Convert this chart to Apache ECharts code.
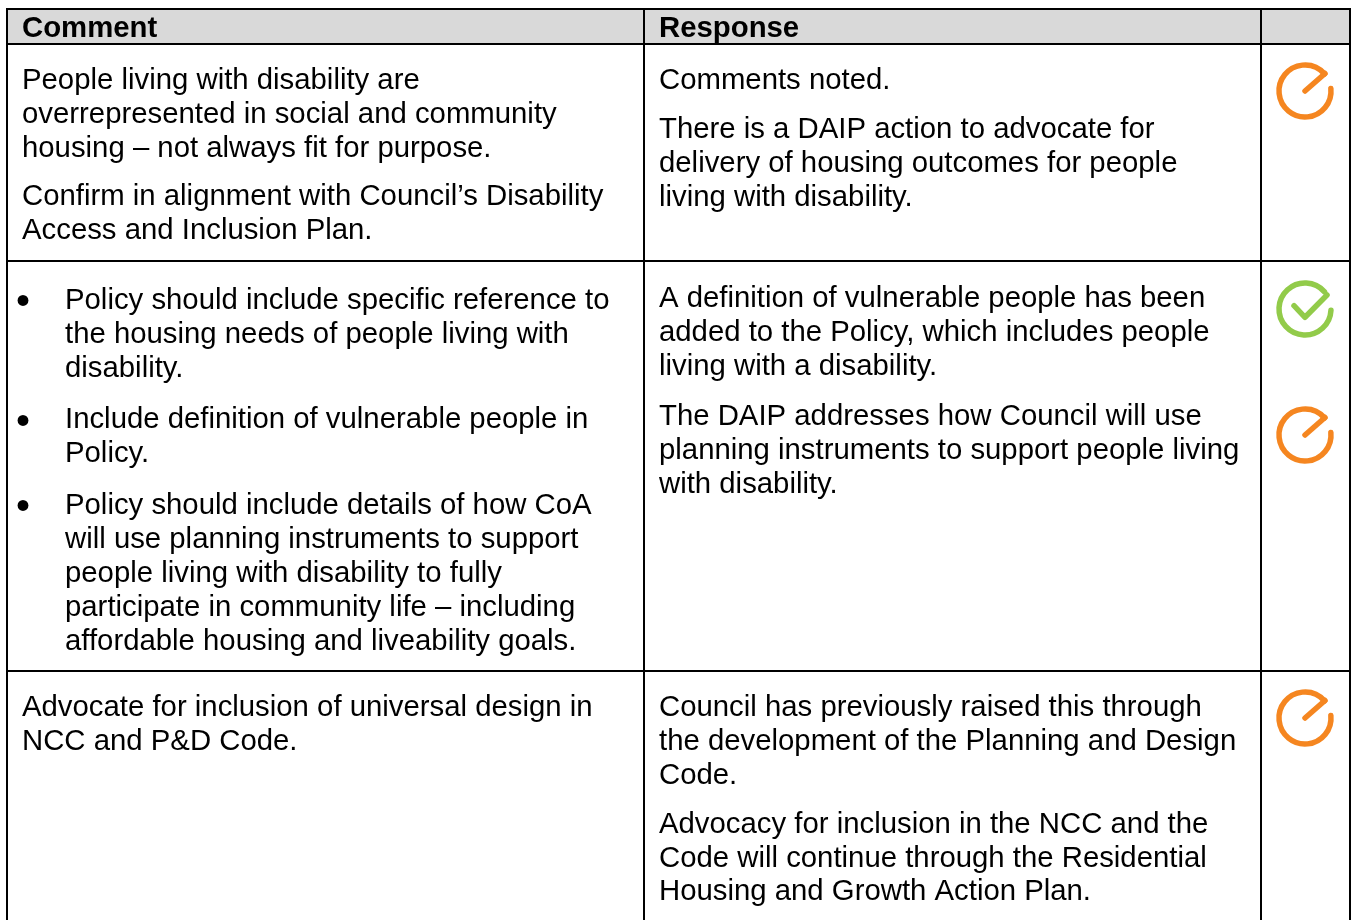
<!DOCTYPE html>
<html><head><meta charset="utf-8">
<style>html,body{margin:0;padding:0;background:#fff}#c{width:1355px;height:920px}</style>
<script src="https://cdn.jsdelivr.net/npm/echarts@6/dist/echarts.min.js"></script>
</head><body><div id="c"></div>
<script>
// ---- content ----
const headers = ['Comment', 'Response', ''];
const row1Comment = [
  ['People living with disability are', 'overrepresented in social and community', 'housing – not always fit for purpose.'],
  ['Confirm in alignment with Council’s Disability', 'Access and Inclusion Plan.']
];
const row1Response = [
  ['Comments noted.'],
  ['There is a DAIP action to advocate for', 'delivery of housing outcomes for people', 'living with disability.']
];
const row2Comment = [
  ['Policy should include specific reference to', 'the housing needs of people living with', 'disability.'],
  ['Include definition of vulnerable people in', 'Policy.'],
  ['Policy should include details of how CoA', 'will use planning instruments to support', 'people living with disability to fully', 'participate in community life – including', 'affordable housing and liveability goals.']
];
const row2Response = [
  ['A definition of vulnerable people has been', 'added to the Policy, which includes people', 'living with a disability.'],
  ['The DAIP addresses how Council will use', 'planning instruments to support people living', 'with disability.']
];
const row3Comment = [
  ['Advocate for inclusion of universal design in', 'NCC and P&D Code.']
];
const row3Response = [
  ['Council has previously raised this through', 'the development of the Planning and Design', 'Code.'],
  ['Advocacy for inclusion in the NCC and the', 'Code will continue through the Residential', 'Housing and Growth Action Plan.']
];
const statusIcons = ['progress', 'done', 'progress', 'progress'];

// ---- layout and style ----
const L = {
  left: 7, col1: 644, col2: 1261, right: 1350,
  top: 9, head: 44, row1: 261, row2: 671, bottom: 920,
  textL: 22, textB: 65, textR: 659, bulletX: 16,
  lh: 33.9, gap: 15, iconX: 1305
};
const FONT = '"Liberation Sans", Arial, sans-serif';
const SIZE = 29.33, BULLET_SIZE = 40;
const ORANGE = '#f58620', GREEN = '#92cb4a', INK = '#000';
const FIRST = { head: 14, row1: 66.3, row2L: 286.4, row2R: 284.4, row3: 693.4 };

function flow(paras, x, y, gap, out) {
  paras.forEach(function (p) {
    p.forEach(function (line) { out.push({ t: line, x: x, y: y }); y += L.lh; });
    y += gap;
  });
}
const texts = [];
flow(row1Comment, L.textL, FIRST.row1, L.gap - 0.6, texts);
flow(row1Response, L.textR, FIRST.row1, L.gap + 0.5, texts);
flow(row2Response, L.textR, FIRST.row2R, L.gap + 1.5, texts);
flow(row3Comment, L.textL, FIRST.row3, L.gap, texts);
flow(row3Response, L.textR, FIRST.row3, L.gap, texts);
// bulleted cell: each paragraph carries a bullet on its first line
const bullets = [];
(function () {
  let y = FIRST.row2L;
  row2Comment.forEach(function (p) {
    bullets.push({ x: L.bulletX, y: y - 3.4 });
    p.forEach(function (line) { texts.push({ t: line, x: L.textB, y: y }); y += L.lh; });
    y += L.gap + 2.8;
  });
})();
const heads = [
  { t: headers[0], x: L.textL, y: FIRST.head },
  { t: headers[1], x: L.textR, y: FIRST.head }
];
const rules = [
  [L.left, L.top, L.right, L.top], [L.left, L.head, L.right, L.head],
  [L.left, L.row1, L.right, L.row1], [L.left, L.row2, L.right, L.row2],
  [L.left, L.top - 1, L.left, L.bottom], [L.col1, L.top, L.col1, L.bottom],
  [L.col2, L.top, L.col2, L.bottom], [L.right, L.top - 1, L.right, L.bottom]
];
const iconY = [91, 309, 435, 718];
const icons = statusIcons.map(function (s, i) { return { s: s, x: L.iconX, y: iconY[i] }; });

const allItems = [];
allItems.push({ kind: 'fill', value: [L.left, L.top, L.right, L.head] });
rules.forEach(function (r) { allItems.push({ kind: 'rule', value: r }); });
heads.forEach(function (h) { allItems.push({ kind: 'head', t: h.t, value: [h.x, h.y] }); });
texts.forEach(function (h) { allItems.push({ kind: 'text', t: h.t, value: [h.x, h.y] }); });
bullets.forEach(function (h) { allItems.push({ kind: 'bullet', t: '•', value: [h.x, h.y] }); });
icons.forEach(function (h) { allItems.push({ kind: 'icon', s: h.s, value: [h.x, h.y] }); });

function iconShape(item, c) {
  const done = item.s === 'done';
  const color = done ? GREEN : ORANGE;
  const line = { stroke: color, lineWidth: 5.5, lineCap: 'round', lineJoin: 'round', fill: null };
  const children = [{
    type: 'arc',
    shape: { cx: c[0], cy: c[1], r: 26, startAngle: done ? 0.05 : -0.1, endAngle: -0.72, clockwise: true },
    style: line
  }];
  const pts = done ? [[-11, -3.3], [0, 8.3], [22, -14]] : [[0, 0], [20, -17.5]];
  children.push({
    type: 'polyline',
    shape: { points: pts.map(function (p) { return [c[0] + p[0], c[1] + p[1]]; }) },
    style: line
  });
  return { type: 'group', children: children };
}

function render(params, api) {
  const item = allItems[params.dataIndex];
  const a = api.coord([api.value(0), api.value(1)]);
  if (item.kind === 'fill' || item.kind === 'rule') {
    const b = api.coord([api.value(2), api.value(3)]);
    if (item.kind === 'fill') {
      return { type: 'rect', shape: { x: a[0], y: a[1], width: b[0] - a[0], height: b[1] - a[1] }, style: { fill: '#d9d9d9' } };
    }
    return { type: 'line', shape: { x1: a[0], y1: a[1], x2: b[0], y2: b[1] }, style: { stroke: INK, lineWidth: 2 } };
  }
  if (item.kind === 'icon') return iconShape(item, a);
  const size = item.kind === 'bullet' ? BULLET_SIZE : SIZE;
  return {
    type: 'text', x: a[0], y: a[1],
    style: {
      text: item.t, fill: INK, textAlign: 'left', verticalAlign: 'top',
      font: (item.kind === 'head' ? 'bold ' : '') + size + 'px ' + FONT
    }
  };
}

const chart = echarts.init(document.getElementById('c'), null, { renderer: 'canvas' });
chart.setOption({
  animation: false,
  backgroundColor: '#fff',
  grid: { left: 0, right: 0, top: 0, bottom: 0 },
  xAxis: { type: 'value', min: 0, max: 1355, show: false },
  yAxis: { type: 'value', min: 0, max: 920, inverse: true, show: false },
  tooltip: { show: false },
  series: [{
    type: 'custom', clip: false, silent: true, coordinateSystem: 'cartesian2d',
    encode: { x: 0, y: 1 },
    renderItem: render,
    data: allItems.map(function (d) { return d.value.length === 4 ? d.value : d.value.concat([0, 0]); })
  }]
});
</script></body></html>
